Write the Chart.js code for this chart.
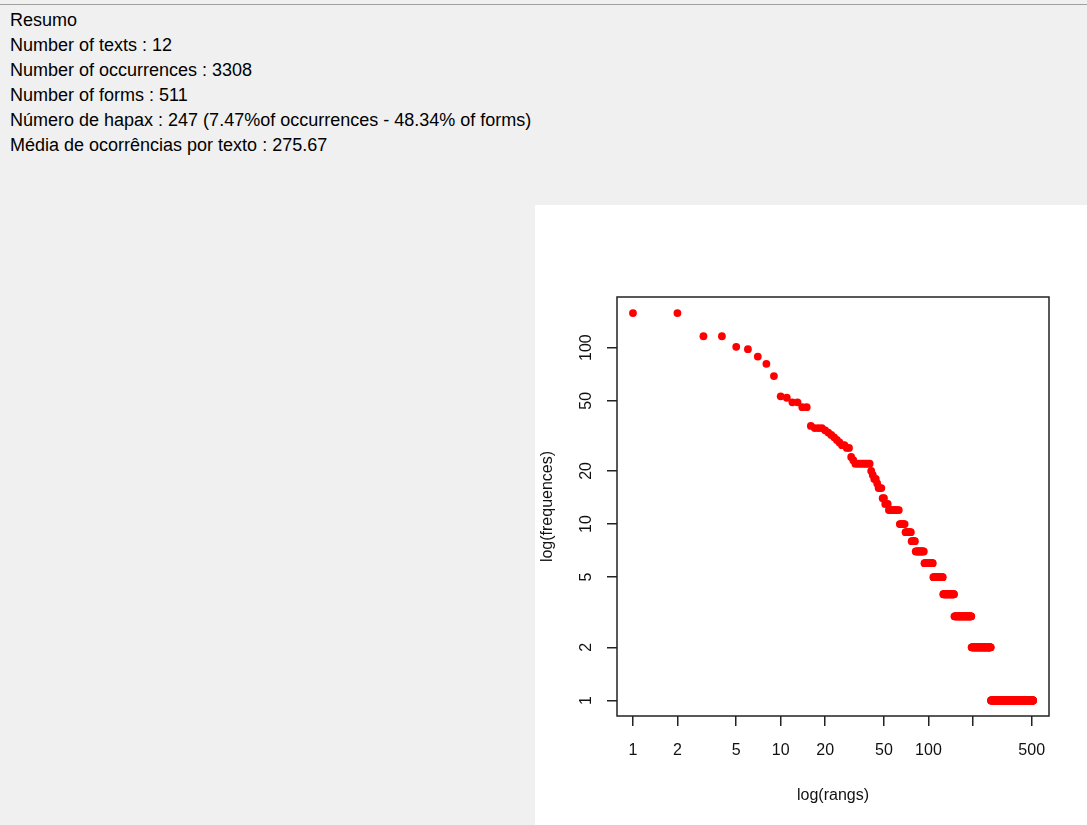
<!DOCTYPE html>
<html>
<head>
<meta charset="utf-8">
<script src="https://cdn.jsdelivr.net/npm/chart.js@4.4.1/dist/chart.umd.min.js"></script>
<style>
  html, body { margin: 0; padding: 0; }
  body { width: 1087px; height: 825px; background: #f0f0f0; position: relative; overflow: hidden; font-family: "Liberation Sans", Arial, sans-serif; }
  #topline { position: absolute; left: 0; top: 4px; width: 1087px; height: 1px; background: #a0a0a0; }
  #resumo { position: absolute; left: 10px; top: 8px; font-size: 18px; line-height: 25px; color: #000; white-space: nowrap; }
  #panel { position: absolute; left: 535px; top: 205px; width: 552px; height: 620px; background: #fff; }
</style>
</head>
<body>
<div id="topline"></div>
<div id="resumo">
  <div>Resumo</div>
  <div>Number of texts : 12</div>
  <div>Number of occurrences : 3308</div>
  <div>Number of forms : 511</div>
  <div>Número de hapax : 247 (7.47%of occurrences - 48.34% of forms)</div>
  <div>Média de ocorrências por texto : 275.67</div>
</div>
<div id="panel"><canvas id="zipf"></canvas></div>
<script>
// frequências das formas mais frequentes (rangs 1 a 53)
const topFreqs = [157, 157, 116, 116, 101, 98, 89, 81, 69, 53,
                  52, 49, 49, 46, 46, 36, 35, 35, 35, 34,
                  33, 32, 31, 30, 29, 28, 28, 27, 27, 24,
                  23, 22, 22, 22, 22, 22, 22, 22, 22, 22,
                  20, 19, 18, 18, 17, 16, 16, 16, 14, 14,
                  13, 13, 13];
// resto do vocabulário : frequência -> número de formas
const spectrumFreq  = [12, 10, 9, 8, 7, 6, 5, 4, 3, 2, 1];
const spectrumCount = [10, 6, 7, 5, 12, 14, 18, 24, 46, 69, 247];

const xTicks = [1, 2, 5, 10, 20, 50, 100, 200, 500];
const xHidden = [200];
const yTicks = [1, 2, 5, 10, 20, 50, 100];

// pontos (rang, frequência)
const points = topFreqs.map((f, i) => ({ x: i + 1, y: f }));
spectrumFreq.forEach((f, k) => {
  for (let j = 0; j < spectrumCount[k]; j++) {
    points.push({ x: points.length + 1, y: f });
  }
});

const boxPlugin = {
  id: 'box',
  afterDraw(chart) {
    const a = chart.chartArea, c = chart.ctx;
    c.save();
    c.strokeStyle = '#222';
    c.lineWidth = 1.5;
    c.strokeRect(a.left, a.top, a.right - a.left, a.bottom - a.top);
    c.restore();
  }
};

const tickFont = { family: '"Liberation Sans", Arial, sans-serif', size: 16 };

const ctx = document.getElementById('zipf').getContext('2d');
const chart = new Chart(ctx, {
  type: 'scatter',
  data: {
    datasets: [{
      data: points,
      backgroundColor: '#ff0000',
      borderColor: '#ff0000',
      borderWidth: 0,
      pointRadius: 3.9,
      pointHoverRadius: 3.9
    }]
  },
  options: {
    responsive: true,
    maintainAspectRatio: false,
    animation: false,
    layout: { padding: { top: 92, right: 38, left: 0, bottom: 0 } },
    plugins: { legend: { display: false }, tooltip: { enabled: false } },
    scales: {
      x: {
        type: 'logarithmic',
        min: Math.pow(10, -0.108),
        max: Math.pow(10, 2.816),
        afterBuildTicks: s => { s.ticks = xTicks.map(v => ({ value: v })); },
        afterFit: s => { s.height = 109; },
        border: { display: false },
        grid: { drawOnChartArea: false, drawTicks: true, tickLength: 10, color: '#222', lineWidth: 1.5 },
        ticks: {
          autoSkip: false, maxRotation: 0, minRotation: 0, padding: 15,
          color: '#111', font: tickFont,
          callback: v => xHidden.includes(v) ? '' : String(v)
        },
        title: { display: true, text: 'log(rangs)', color: '#111', font: tickFont, padding: { top: 0, bottom: 20 } }
      },
      y: {
        type: 'logarithmic',
        min: Math.pow(10, -0.088),
        max: Math.pow(10, 2.287),
        afterBuildTicks: s => { s.ticks = yTicks.map(v => ({ value: v })); },
        afterFit: s => { s.width = 82; },
        border: { display: false },
        grid: { drawOnChartArea: false, drawTicks: true, tickLength: 10, color: '#222', lineWidth: 1.5 },
        ticks: {
          autoSkip: false, minRotation: 90, maxRotation: 90, crossAlign: 'center', padding: 7,
          color: '#111', font: tickFont,
          callback: v => String(v)
        },
        title: { display: true, text: 'log(frequences)', color: '#111', font: tickFont, padding: { top: 3, bottom: 0 } }
      }
    }
  },
  plugins: [boxPlugin]
});
</script>
</body>
</html>
